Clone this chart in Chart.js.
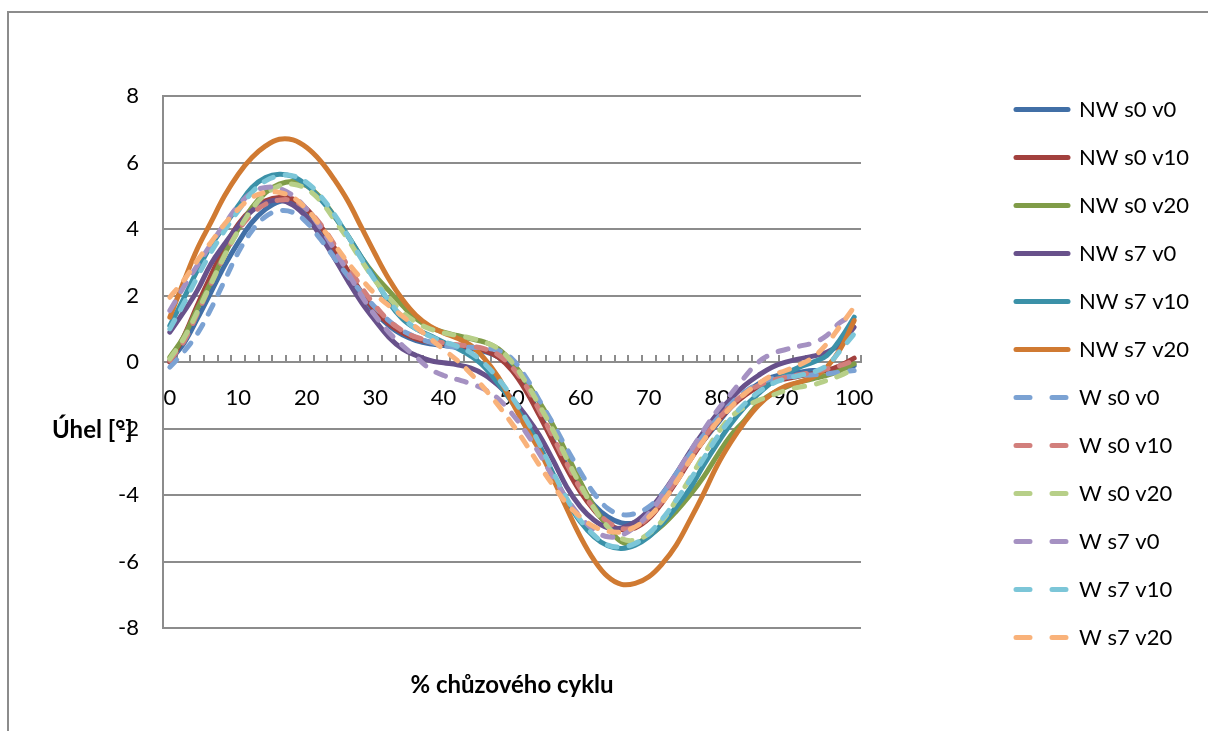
<!DOCTYPE html>
<html><head><meta charset="utf-8">
<script src="https://cdn.jsdelivr.net/npm/chart.js@4.4.1/dist/chart.umd.min.js"></script>
<style>
html,body{margin:0;padding:0;background:#fff;overflow:hidden;}
#wrap{position:relative;width:1208px;height:731px;}
#frame{position:absolute;left:7px;top:11px;width:1300px;height:800px;border:2px solid #8c8c8c;box-sizing:border-box;}
canvas{position:absolute;left:0;top:0;}
</style></head><body>
<div id="wrap"><div id="frame"></div><canvas id="c" width="1208" height="731"></canvas></div>
<script>
// ---- data ----
const pct = [0,2,4,6,8,10,12,14,16,18,20,22,24,26,28,30,32,34,36,38,40,42,44,46,48,50,52,54,56,58,60,62,64,66,68,70,72,74,76,78,80,82,84,86,88,90,92,94,96,98,100];
const seriesNames = ['NW s0 v0','NW s0 v10','NW s0 v20','NW s7 v0','NW s7 v10','NW s7 v20','W s0 v0','W s0 v10','W s0 v20','W s7 v0','W s7 v10','W s7 v20'];
const nwS0V0 = [0.05,0.55,1.3,2.1,2.9,3.6,4.2,4.6,4.83,4.82,4.55, 4.05,3.4,2.7,2.05,1.5,1.1,0.82,0.65,0.55,0.5, 0.45,0.4,0.32,0.15,-0.2,-0.8,-1.55,-2.35,-3.1,-3.75, -4.3,-4.65,-4.83,-4.82,-4.55,-4.05,-3.45,-2.85,-2.35,-1.85, -1.35,-0.95,-0.65,-0.45,-0.35,-0.3,-0.25,-0.25,-0.2,-0.1];
const nwS0V10 = [0.0,0.75,1.7,2.6,3.45,4.15,4.6,4.85,4.95,4.9,4.6, 4.1,3.45,2.75,2.1,1.55,1.15,0.88,0.7,0.6,0.55, 0.5,0.45,0.35,0.15,-0.25,-0.85,-1.6,-2.4,-3.2,-3.9, -4.45,-4.85,-5.03,-4.98,-4.7,-4.2,-3.6,-2.95,-2.35,-1.8, -1.35,-1.0,-0.75,-0.6,-0.5,-0.42,-0.35,-0.25,-0.1,0.12];
const nwS0V20 = [0.15,0.75,1.6,2.4,3.25,4.0,4.65,5.1,5.35,5.43,5.3, 4.95,4.4,3.8,3.15,2.6,2.15,1.7,1.3,1.05,0.9, 0.8,0.7,0.6,0.4,0.0,-0.55,-1.2,-1.9,-2.75,-3.6, -4.35,-4.95,-5.4,-5.45,-5.22,-4.9,-4.48,-4.0,-3.45,-2.8, -2.2,-1.75,-1.25,-0.95,-0.75,-0.6,-0.5,-0.4,-0.25,-0.05];
const nwS7V0 = [0.9,1.5,2.15,2.95,3.55,4.1,4.55,4.8,4.87,4.72,4.35, 3.8,3.15,2.45,1.8,1.25,0.75,0.4,0.2,0.05,-0.02, -0.08,-0.18,-0.38,-0.7,-1.1,-1.6,-2.2,-2.95,-3.75,-4.35, -4.75,-4.98,-4.98,-4.8,-4.45,-3.95,-3.35,-2.7,-2.1,-1.55, -1.1,-0.7,-0.4,-0.15,0.0,0.1,0.18,0.3,0.55,1.05];
const nwS7V10 = [1.1,1.9,2.75,3.5,4.1,4.7,5.25,5.55,5.65,5.58,5.32, 4.9,4.4,3.8,3.15,2.5,1.8,1.3,1.0,0.8,0.6, 0.42,0.18,-0.15,-0.65,-1.2,-1.8,-2.5,-3.35,-4.15,-4.8, -5.25,-5.52,-5.6,-5.5,-5.25,-4.85,-4.35,-3.8,-3.1,-2.45, -1.85,-1.35,-0.95,-0.6,-0.35,-0.15,0.0,0.2,0.7,1.35];
const nwS7V20 = [1.35,2.4,3.4,4.2,5.0,5.65,6.15,6.5,6.7,6.68,6.45, 6.05,5.5,4.85,4.05,3.25,2.5,1.88,1.4,1.08,0.88, 0.72,0.5,0.1,-0.45,-1.2,-1.95,-2.65,-3.5,-4.4,-5.25, -5.95,-6.45,-6.68,-6.65,-6.45,-6.05,-5.5,-4.75,-3.95,-3.1, -2.4,-1.8,-1.3,-0.95,-0.72,-0.6,-0.45,-0.15,0.4,1.25];
const wS0V0 = [-0.15,0.3,0.85,1.6,2.45,3.3,3.95,4.38,4.55,4.5,4.2, 3.7,3.15,2.6,2.1,1.65,1.25,0.95,0.75,0.6,0.5, 0.45,0.45,0.42,0.35,0.1,-0.45,-1.15,-1.85,-2.6,-3.3, -3.95,-4.4,-4.58,-4.55,-4.35,-3.95,-3.35,-2.75,-2.2,-1.7, -1.25,-0.9,-0.65,-0.5,-0.45,-0.4,-0.38,-0.35,-0.3,-0.25];
const wS0V10 = [0.05,0.6,1.45,2.35,3.2,3.95,4.45,4.75,4.87,4.85,4.6, 4.15,3.55,2.9,2.25,1.7,1.25,0.95,0.75,0.65,0.58, 0.52,0.48,0.4,0.22,-0.15,-0.7,-1.45,-2.25,-3.05,-3.8, -4.4,-4.8,-5.0,-4.95,-4.65,-4.15,-3.55,-2.9,-2.3,-1.75, -1.3,-0.95,-0.7,-0.55,-0.45,-0.38,-0.3,-0.2,-0.1,0.05];
const wS0V20 = [0.1,0.7,1.5,2.35,3.2,3.95,4.6,5.05,5.3,5.35,5.2, 4.85,4.3,3.7,3.05,2.45,1.95,1.5,1.2,1.0,0.88, 0.8,0.72,0.6,0.4,0.0,-0.6,-1.3,-2.05,-2.9,-3.7, -4.4,-4.95,-5.3,-5.35,-5.15,-4.75,-4.15,-3.5,-2.8,-2.15, -1.65,-1.35,-1.15,-1.0,-0.85,-0.75,-0.68,-0.55,-0.4,-0.2];
const wS7V0 = [1.55,2.25,2.9,3.55,4.15,4.7,5.1,5.25,5.22,5.0,4.6, 4.05,3.4,2.7,2.0,1.4,0.9,0.5,0.15,-0.2,-0.4, -0.52,-0.65,-0.82,-1.1,-1.55,-2.1,-2.75,-3.45,-4.1,-4.65, -5.05,-5.25,-5.2,-4.95,-4.55,-4.0,-3.35,-2.7,-2.05,-1.45, -0.95,-0.45,0.0,0.25,0.38,0.48,0.58,0.8,1.2,1.4];
const wS7V10 = [1.0,1.75,2.55,3.3,3.95,4.55,5.1,5.45,5.6,5.6,5.4, 5.0,4.45,3.8,3.1,2.45,1.85,1.35,1.0,0.78,0.62, 0.48,0.28,-0.05,-0.5,-1.05,-1.7,-2.45,-3.3,-4.1,-4.75, -5.2,-5.5,-5.55,-5.45,-5.15,-4.7,-4.15,-3.55,-2.9,-2.25, -1.7,-1.25,-0.9,-0.65,-0.5,-0.4,-0.3,-0.1,0.35,0.85];
const wS7V20 = [1.95,2.45,3.05,3.6,4.15,4.6,4.95,5.1,5.1,4.95,4.6, 4.1,3.55,3.0,2.5,2.05,1.7,1.38,1.05,0.72,0.38, 0.05,-0.35,-0.8,-1.3,-1.85,-2.45,-3.1,-3.7,-4.25,-4.65, -4.95,-5.08,-5.1,-4.95,-4.65,-4.2,-3.6,-2.95,-2.35,-1.8, -1.35,-0.95,-0.65,-0.4,-0.25,-0.08,0.15,0.55,1.1,1.65];
const seriesValues = [nwS0V0,nwS0V10,nwS0V20,nwS7V0,nwS7V10,nwS7V20,wS0V0,wS0V10,wS0V20,wS7V0,wS7V10,wS7V20];
const xTitle = '% chůzového cyklu';
const yTitle = 'Úhel [°]';
const yMin = -8, yMax = 8, yStep = 2;

// ---- styles ----
const colors = ['#416FA6','#A2403D','#809C48','#68518B','#3B91A8','#D07A32','#7BA2D3','#D27F7C','#B7CF88','#A591C2','#7CC6D8','#F9B27A'];
const gridColor = '#8c8c8c';

Chart.defaults.font.family = 'Lato';
Chart.defaults.font.size = 22;
Chart.defaults.color = '#000';

const datasets = seriesNames.map((name, i) => ({
  label: name,
  data: seriesValues[i],
  borderColor: colors[i],
  backgroundColor: colors[i],
  borderWidth: 5,
  borderDash: name.startsWith('W ') ? [10, 12] : [],
  borderCapStyle: 'round',
  borderJoinStyle: 'round',
  pointRadius: 0,
  pointHoverRadius: 0,
  fill: false,
  tension: 0.4,
  order: seriesNames.length - i
}));

const yTitlePlugin = {
  id: 'yTitle',
  afterDraw(chart) {
    const ctx = chart.ctx;
    const y = chart.scales.y;
    ctx.save();
    ctx.font = 'bold 24px Lato';
    ctx.fillStyle = '#000';
    ctx.textAlign = 'left';
    ctx.textBaseline = 'alphabetic';
    ctx.fillText(yTitle, chart.chartArea.left - 111, y.getPixelForValue(-2) + 9);
    ctx.restore();
  }
};

// let the legend's drawing area reach the right edge so the labels are not clipped
const legendWidenPlugin = {
  id: 'legendWiden',
  afterLayout(chart) {
    if (chart.legend) {
      chart.legend.right = chart.width;
      chart.legend.width = chart.legend.right - chart.legend.left;
    }
  }
};

new Chart(document.getElementById('c'), {
  type: 'line',
  data: { labels: pct.map(String), datasets },
  plugins: [yTitlePlugin, legendWidenPlugin],
  options: {
    responsive: false,
    animation: false,
    devicePixelRatio: 1,
    layout: { padding: { left: 0, top: 16, right: 53, bottom: 0 } },
    scales: {
      x: {
        type: 'category',
        offset: true,
        position: { y: 0 },
        grid: { drawOnChartArea: false, offset: true, drawTicks: true, tickLength: -8, color: gridColor, lineWidth: 2 },
        border: { display: true, color: gridColor, width: 2 },
        ticks: {
          autoSkip: false, maxRotation: 0, minRotation: 0, padding: 31, color: '#000',
          font: { size: 22 },
          callback: (v, i) => (i % 5 === 0 ? String(pct[i]) : '')
        }
      },
      y: {
        min: yMin, max: yMax,
        ticks: { stepSize: yStep, padding: 24, color: '#000', font: { size: 22 } },
        grid: { color: gridColor, lineWidth: 2, drawTicks: false },
        border: { display: true, color: gridColor, width: 2 },
        afterFit(s) { s.width = 163; }
      },
      yR: {
        position: 'right',
        display: true,
        grid: { display: false },
        ticks: { display: false },
        border: { display: false },
        afterFit(s) { s.width = 129; }
      }
    },
    plugins: {
      tooltip: { enabled: false },
      subtitle: { display: true, position: 'top', fullSize: false, text: '', font: { size: 10 }, padding: { top: 0, bottom: 68 } },
      title: {
        display: true, position: 'bottom', fullSize: false, text: xTitle, color: '#000',
        font: { size: 24, weight: 'bold' }, padding: { top: 42.3, bottom: 31.6 }
      },
      legend: {
        position: 'right', align: 'center', maxWidth: 165,
        labels: {
          usePointStyle: true, pointStyle: 'line', pointStyleWidth: 52, padding: 26,
          color: '#000', font: { size: 22 },
          generateLabels(chart) {
            const items = Chart.defaults.plugins.legend.labels.generateLabels(chart);
            items.sort((a, b) => a.datasetIndex - b.datasetIndex);
            items.forEach(it => {
              const ds = chart.data.datasets[it.datasetIndex];
              it.lineDash = ds.borderDash.length ? [14, 22] : [];
              it.lineCap = 'round';
            });
            return items;
          }
        }
      }
    }
  }
});
</script></body></html>
